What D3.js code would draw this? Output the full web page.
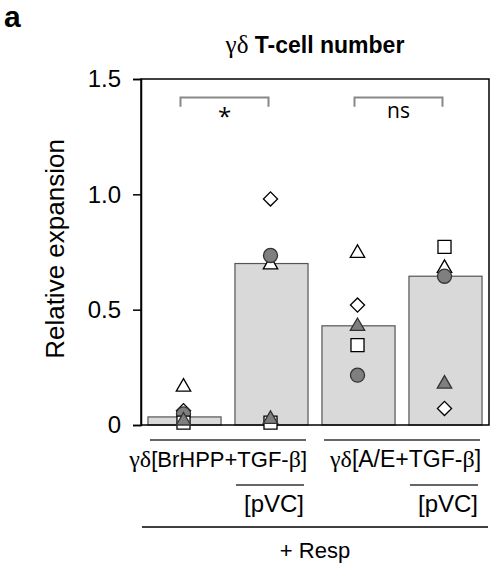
<!DOCTYPE html>
<html>
<head>
<meta charset="utf-8">
<script src="https://cdn.jsdelivr.net/npm/d3@7"></script>
<style>
  body { margin: 0; background: #fff; }
  svg { display: block; font-family: Arial, "Liberation Sans", sans-serif; }
</style>
</head>
<body>
<div id="chart"></div>
<script>
// gd T-cell number, relative expansion per condition

const groups = ['BrHPP', 'BrHPP_pVC', 'AE', 'AE_pVC'];
const means = [0.035, 0.70, 0.43, 0.645];

// one series per donor (marker shape)
const openTriangle = [0.165, 0.695, 0.745, 0.68];
const openDiamond = [0.062, 0.98, 0.52, 0.072];
const greyCircle = [0.048, 0.735, 0.216, 0.645];
const openSquare = [0.01, 0.01, 0.346, 0.772];
const greyTriangle = [0.018, 0.025, 0.428, 0.178];

const yTicks = [0, 0.5, 1.0, 1.5];
const yTickLabels = ['0', '0.5', '1.0', '1.5'];

const width = 491, height = 575;
const svg = d3.select('#chart').append('svg')
    .attr('width', width)
    .attr('height', height);

const x = d3.scaleBand()
    .domain(groups)
    .range([141, 489])
    .paddingInner(0.16)
    .paddingOuter(0.08);

const y = d3.scaleLinear()
    .domain([0, 1.5])
    .range([425, 79]);

// panel letter + title
svg.append('text')
    .attr('x', 4).attr('y', 27)
    .style('font-size', '30px').style('font-weight', 'bold')
    .text('a');

const title = svg.append('text')
    .attr('x', 315).attr('y', 53)
    .attr('text-anchor', 'middle')
    .style('font-size', '23px');
title.append('tspan')
    .style('font-family', '"Liberation Serif", "Times New Roman", serif')
    .style('font-size', '25px')
    .text('γδ');
title.append('tspan')
    .style('font-weight', 'bold')
    .text(' T-cell number');

// bars
svg.append('g')
    .selectAll('rect')
    .data(groups)
    .enter()
    .append('rect')
    .attr('x', d => x(d))
    .attr('width', x.bandwidth())
    .attr('y', (d, i) => y(means[i]))
    .attr('height', (d, i) => y(0) - y(means[i]))
    .attr('fill', '#d9d9d9')
    .attr('stroke', '#555')
    .attr('stroke-width', 1.2);

// box + y axis
svg.append('rect')
    .attr('x', 141).attr('y', 79)
    .attr('width', 489 - 141).attr('height', 425 - 79)
    .attr('fill', 'none')
    .attr('stroke', '#000')
    .attr('stroke-width', 1.5);

const yAxis = svg.append('g')
    .attr('transform', 'translate(141,0)')
    .call(d3.axisLeft(y)
        .tickValues(yTicks)
        .tickFormat((d, i) => yTickLabels[i])
        .tickSize(8)
        .tickPadding(12));
yAxis.select('.domain').attr('stroke', '#000').attr('stroke-width', 1.5);
yAxis.selectAll('.tick line').attr('stroke', '#000').attr('stroke-width', 1.5);
yAxis.selectAll('.tick text')
    .style('font-family', 'Arial, "Liberation Sans", sans-serif')
    .style('font-size', '24px')
    .attr('fill', '#000');

svg.append('text')
    .attr('transform', 'translate(64,249) rotate(-90)')
    .attr('text-anchor', 'middle')
    .style('font-size', '26px')
    .text('Relative expansion');

// donor markers
const cx = d => x(d) + x.bandwidth() / 2 - 1;
const markerSets = [
    { values: openTriangle, type: d3.symbolTriangle, size: 90, fill: '#fff', stroke: '#000', rot: 0 },
    { values: openDiamond, type: d3.symbolSquare, size: 100, fill: '#fff', stroke: '#000', rot: 45 },
    { values: greyCircle, type: d3.symbolCircle, size: 155, fill: '#7f7f7f', stroke: '#333', rot: 0 },
    { values: openSquare, type: d3.symbolSquare, size: 170, fill: '#fff', stroke: '#000', rot: 0 },
    { values: greyTriangle, type: d3.symbolTriangle, size: 90, fill: '#7f7f7f', stroke: '#333', rot: 0 }
];

markerSets.forEach(set => {
    svg.append('g')
        .selectAll('path')
        .data(groups)
        .enter()
        .append('path')
        .attr('d', d3.symbol().type(set.type).size(set.size))
        .attr('transform', (d, i) => `translate(${cx(d)},${y(set.values[i])}) rotate(${set.rot})`)
        .attr('fill', set.fill)
        .attr('stroke', set.stroke)
        .attr('stroke-width', 1.3);
});

// significance brackets
const brackets = [
    { from: 'BrHPP', to: 'BrHPP_pVC', label: '*', size: '24px', dy: 125 },
    { from: 'AE', to: 'AE_pVC', label: 'ns', size: '21px', dy: 118 }
];
brackets.forEach(b => {
    const x1 = cx(b.from) - 3, x2 = cx(b.to) - 2;
    svg.append('path')
        .attr('d', `M${x1},${y(1.38)}V${y(1.42)}H${x2}V${y(1.38)}`)
        .attr('fill', 'none')
        .attr('stroke', '#888')
        .attr('stroke-width', 2);
    svg.append('text')
        .attr('x', (x1 + x2) / 2)
        .attr('y', b.dy)
        .attr('text-anchor', 'middle')
        .style('font-family', '"Open Sans", "DejaVu Sans", sans-serif')
        .style('font-size', b.size)
        .text(b.label);
});

// category labels under the axis
const greek = '"Liberation Serif", "Times New Roman", serif';
const condLabels = [
    { from: 'BrHPP', to: 'BrHPP_pVC', size: '22px', parts: [['γδ', true], ['[BrHPP+TGF-', false], ['β', true], [']', false]] },
    { from: 'AE', to: 'AE_pVC', size: '23px', parts: [['γδ', true], ['[A/E+TGF-', false], ['β', true], [']', false]] }
];
condLabels.forEach(c => {
    const x1 = x(c.from) + 2, x2 = x(c.to) + x.bandwidth() - 2;
    svg.append('line')
        .attr('x1', x1).attr('x2', x2)
        .attr('y1', 440).attr('y2', 440)
        .attr('stroke', '#333').attr('stroke-width', 1.5);
    const t = svg.append('text')
        .attr('x', x2 + 1).attr('y', 467)
        .attr('text-anchor', 'end')
        .style('font-size', c.size);
    c.parts.forEach(p => {
        const s = t.append('tspan').text(p[0]);
        if (p[1]) s.style('font-family', greek).style('font-size', '24px');
    });
});

['BrHPP_pVC', 'AE_pVC'].forEach(g => {
    const x1 = x(g) + 1, x2 = x(g) + x.bandwidth() - 4;
    svg.append('line')
        .attr('x1', x1).attr('x2', x2)
        .attr('y1', 485).attr('y2', 485)
        .attr('stroke', '#333').attr('stroke-width', 1.5);
    svg.append('text')
        .attr('x', x2).attr('y', 512)
        .attr('text-anchor', 'end')
        .style('font-size', '24px')
        .text('[pVC]');
});

svg.append('line')
    .attr('x1', 142).attr('x2', 488)
    .attr('y1', 527).attr('y2', 527)
    .attr('stroke', '#000').attr('stroke-width', 1.5);
svg.append('text')
    .attr('x', 315).attr('y', 558)
    .attr('text-anchor', 'middle')
    .style('font-size', '22px')
    .text('+ Resp');
</script>
</body>
</html>
